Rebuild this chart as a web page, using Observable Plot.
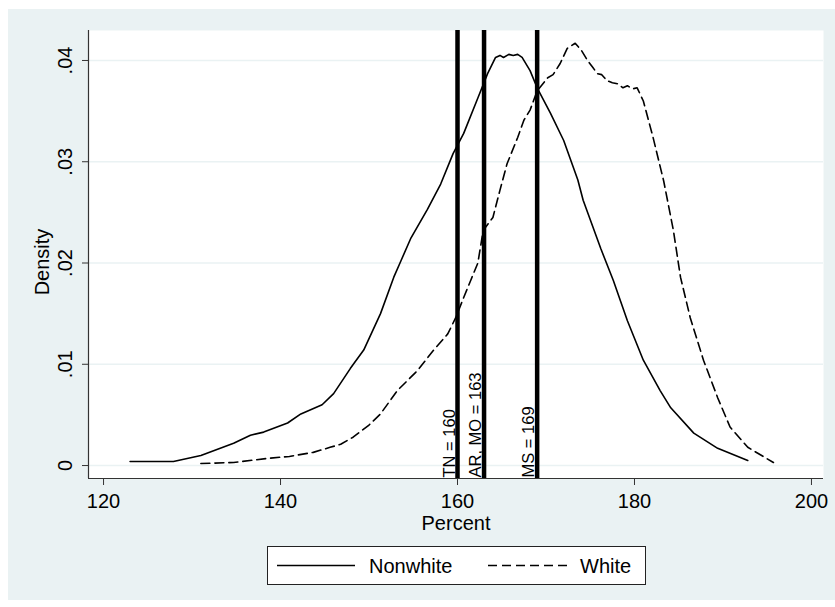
<!DOCTYPE html>
<html><head><meta charset="utf-8">
<script src="https://cdn.jsdelivr.net/npm/d3@7"></script>
<script src="https://cdn.jsdelivr.net/npm/@observablehq/plot@0.6"></script>
<style>
body{margin:0;background:#fff;font-family:"Liberation Sans",Arial,sans-serif;}
#wrap{position:absolute;left:8px;top:9px;width:827px;height:591px;background:#eaf2f3;}
#chart{position:absolute;left:0;top:0;}
#legend{position:absolute;left:259px;top:537px;}
</style></head><body><div id="wrap"><div id="chart"></div><div id="legend"></div></div>
<script>
const nonwhitePercent = [123.0,125.0,127.9,131.0,134.7,136.6,138.1,140.8,142.3,144.7,146.0,147.9,149.4,151.3,152.8,153.6,154.7,156.6,158.1,159.5,160.7,162.3,163.4,164.3,164.8,165.2,165.8,166.3,166.8,167.3,168.2,169.0,170.5,172.0,173.6,174.2,176.2,177.6,179.2,181.0,182.9,184.1,186.7,189.4,192.8];
const nonwhiteDensity = [.0004,.0004,.0004,.0010,.0022,.0030,.0033,.0042,.0051,.0060,.0071,.0096,.0114,.0150,.0186,.0202,.0224,.0253,.0278,.0308,.0328,.0363,.0387,.0403,.0405,.0403,.0406,.0405,.0406,.0403,.0390,.0373,.0348,.0321,.0282,.0262,.0214,.0183,.0143,.0104,.0074,.0057,.0032,.0017,.0005];
const whitePercent = [131.0,134.7,138.5,141.0,143.7,145.6,146.8,148.2,150.0,151.3,153.2,155.5,157.3,158.9,159.8,160.7,161.5,162.3,162.9,164.0,164.8,165.6,166.8,167.5,168.2,169.0,170.2,170.8,171.6,172.4,173.3,174.0,174.7,175.3,175.8,176.3,176.9,177.5,178.1,178.7,179.2,179.8,180.3,181.0,182.1,183.3,184.4,185.2,186.3,187.8,189.4,190.8,192.8,195.7];
const whiteDensity = [.0002,.0003,.0007,.0009,.0013,.0018,.0021,.0028,.0040,.0051,.0074,.0094,.0114,.0130,.0146,.0166,.0183,.0200,.0232,.0245,.0272,.0298,.0324,.0341,.0351,.0370,.0383,.0386,.0397,.0412,.0417,.0410,.0400,.0393,.0387,.0386,.0380,.0378,.0377,.0373,.0375,.0372,.0373,.0360,.0324,.0281,.0232,.0186,.0146,.0104,.0067,.0038,.0018,.0003];
const cutoffValues = [160, 163, 169];
const cutoffLabels = ["TN = 160", "AR, MO = 163", "MS = 169"];
const xTicks = [120, 140, 160, 180, 200];
const yTicks = [0, 0.01, 0.02, 0.03, 0.04];
const yTickLabels = ["0", ".01", ".02", ".03", ".04"];
const seriesNames = ["Nonwhite", "White"];

const xDomain = [118.3, 201.36];
const yDomain = [-0.00128, 0.04296];
const nonwhite = nonwhitePercent.map((x, i) => ({x, y: nonwhiteDensity[i]}));
const white = whitePercent.map((x, i) => ({x, y: whiteDensity[i]}));
const axisColor = "#333";

const chart = Plot.plot({
  width: 827, height: 530,
  marginLeft: 80, marginRight: 12, marginTop: 21, marginBottom: 61,
  style: {fontFamily: "'Liberation Sans', Arial, sans-serif", fontSize: "20px", background: "transparent", overflow: "visible"},
  x: {domain: xDomain},
  y: {domain: yDomain},
  marks: [
    Plot.frame({fill: "white", stroke: null}),
    Plot.ruleY(yTicks, {stroke: "#eaf2f3", strokeWidth: 1.6}),
    Plot.line(nonwhite, {x: "x", y: "y", stroke: "black", strokeWidth: 1.6}),
    Plot.line(white, {x: "x", y: "y", stroke: "black", strokeWidth: 1.6, strokeDasharray: "9,5"}),
    Plot.ruleX(cutoffValues, {stroke: "black", strokeWidth: 4.5}),
    Plot.text(cutoffValues, {x: d => d, frameAnchor: "bottom", text: (d, i) => cutoffLabels[i], rotate: -90, textAnchor: "start", lineAnchor: "bottom", dx: -3, dy: -1, fontSize: 16.5, fill: "black"}),
    Plot.ruleY([yDomain[0]], {stroke: axisColor, strokeWidth: 1.2}),
    Plot.ruleX([xDomain[0]], {stroke: axisColor, strokeWidth: 1.2}),
    Plot.axisX({ticks: xTicks, tickSize: 7, tickPadding: 8, fontSize: 20, label: null, stroke: axisColor, fill: "black"}),
    Plot.axisY({ticks: yTicks, tickSize: 6, tickFormat: () => "", label: null, stroke: axisColor}),
    Plot.text(yTicks, {y: d => d, frameAnchor: "left", text: (d, i) => yTickLabels[i], rotate: -90, textAnchor: "middle", lineAnchor: "bottom", dx: -17, fontSize: 20, fill: "black"}),
    Plot.text(["Percent"], {frameAnchor: "bottom", text: d => d, dy: 45, lineAnchor: "middle", fontSize: 20, fill: "black"}),
    Plot.text(["Density"], {x: () => xDomain[0], y: () => 0.0201, text: d => d, rotate: -90, textAnchor: "middle", dx: -46, lineAnchor: "middle", fontSize: 20, fill: "black"})
  ]
});
document.getElementById("chart").appendChild(chart);

// Legend
const lg = d3.select("#legend").append("svg").attr("width", 380).attr("height", 40)
  .style("font-family", "'Liberation Sans', Arial, sans-serif");
lg.append("rect").attr("x", 0.5).attr("y", 0.5).attr("width", 378).attr("height", 38)
  .attr("fill", "white").attr("stroke", "#222").attr("stroke-width", 1);
const items = [{x0: 10, x1: 88, tx: 102, dash: null}, {x0: 221, x1: 300, tx: 313, dash: "9,5"}];
items.forEach((it, i) => {
  lg.append("line").attr("x1", it.x0).attr("x2", it.x1).attr("y1", 19.5).attr("y2", 19.5)
    .attr("stroke", "black").attr("stroke-width", 1.6).attr("stroke-dasharray", it.dash);
  lg.append("text").attr("x", it.tx).attr("y", 19.5).attr("dy", "0.35em")
    .attr("font-size", 20).text(seriesNames[i]);
});
</script>
</body></html>
